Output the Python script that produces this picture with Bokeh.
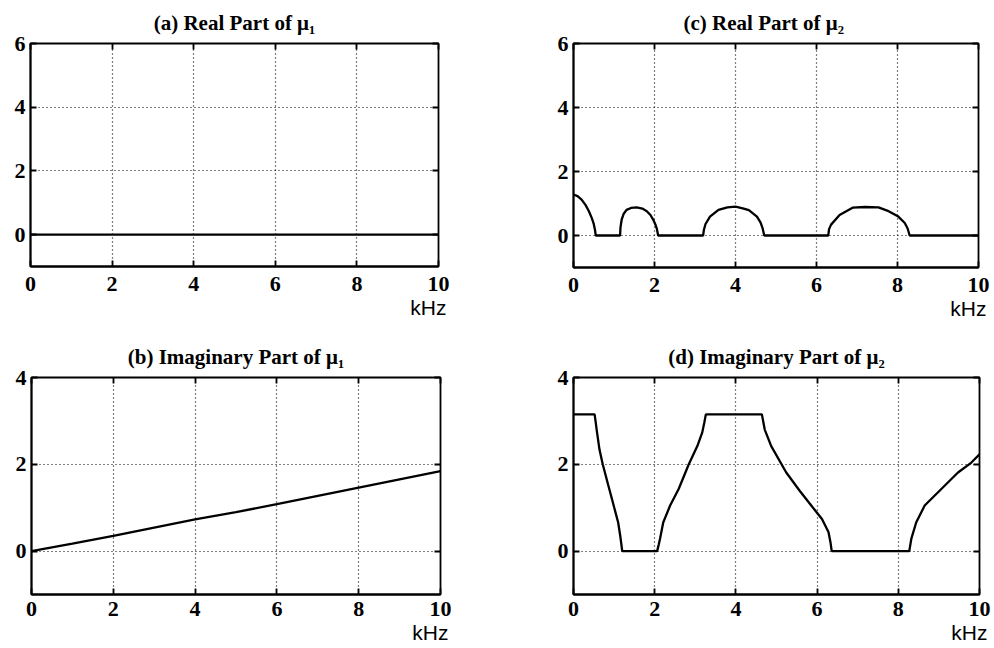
from bokeh.plotting import figure
from bokeh.layouts import column, row
from bokeh.models import Range1d, FixedTicker, LinearAxis, Title, CustomJSTickFormatter
from bokeh.embed import file_html
from bokeh.resources import INLINE

# ---------------- data ----------------
x_ticks = [0, 2, 4, 6, 8, 10]
y_ticks_real = [0, 2, 4, 6]
y_ticks_imag = [0, 2, 4]

# (a) Real part of mu1
freq_a = [0.0, 10.0]
re_mu1 = [0.0, 0.0]

# (b) Imaginary part of mu1
freq_b = [0, 1, 2, 3, 4, 5, 6, 7, 8, 9, 10]
im_mu1 = [0.0, 0.17, 0.35, 0.54, 0.73, 0.90, 1.08, 1.27, 1.46, 1.65, 1.84]

# (c) Real part of mu2
freq_c = [0.00, 0.10, 0.20, 0.30, 0.38, 0.45, 0.50, 0.53, 0.55,
          1.15, 1.16, 1.19, 1.24, 1.31, 1.42, 1.56, 1.70, 1.81, 1.90, 1.97, 2.03, 2.06, 2.09,
          3.20, 3.22, 3.26, 3.37, 3.58, 3.80, 4.00, 4.18, 4.33, 4.53, 4.62, 4.67, 4.71,
          6.29, 6.31, 6.36, 6.57, 6.89, 7.20, 7.53, 7.78, 8.02, 8.18, 8.25, 8.30,
          10.0]
re_mu2 = [1.28, 1.23, 1.12, 0.95, 0.76, 0.55, 0.36, 0.18, 0.00,
          0.00, 0.25, 0.50, 0.68, 0.80, 0.86, 0.88, 0.84, 0.76, 0.64, 0.49, 0.32, 0.20, 0.00,
          0.00, 0.18, 0.36, 0.59, 0.80, 0.88, 0.90, 0.85, 0.79, 0.59, 0.40, 0.22, 0.00,
          0.00, 0.20, 0.34, 0.64, 0.87, 0.89, 0.88, 0.76, 0.59, 0.39, 0.22, 0.00,
          0.00]

# (d) Imaginary part of mu2
freq_d = [0.00, 0.52, 0.55, 0.57, 0.64, 0.72, 0.85, 0.97, 1.06, 1.10, 1.15, 1.18, 1.20,
          2.06, 2.10, 2.13, 2.21, 2.38, 2.59, 2.84, 3.05, 3.17, 3.22, 3.26,
          4.64, 4.68, 4.71, 4.87, 5.24, 5.57, 5.89, 6.12, 6.28, 6.33, 6.36,
          8.27, 8.32, 8.44, 8.65, 9.06, 9.47, 9.80, 10.0]
im_mu2 = [3.15, 3.15, 2.95, 2.80, 2.34, 2.00, 1.54, 1.12, 0.80, 0.66, 0.36, 0.15, 0.00,
          0.00, 0.15, 0.28, 0.66, 1.05, 1.43, 2.00, 2.42, 2.73, 2.95, 3.15,
          3.15, 2.95, 2.80, 2.42, 1.81, 1.39, 1.01, 0.74, 0.44, 0.20, 0.00,
          0.00, 0.28, 0.66, 1.05, 1.43, 1.81, 2.04, 2.23]

titles = ["(a) Real Part of \u03bc\u2081", "(c) Real Part of \u03bc\u2082",
          "(b) Imaginary Part of \u03bc\u2081", "(d) Imaginary Part of \u03bc\u2082"]

SERIF = "Liberation Serif"
SANS = "Liberation Sans"


def make_panel(title, xs, ys, ymin, ymax, yticks, fw, fh, bl, br, bt, bb,
               xstand, talign="center", toffset=0):
    p = figure(frame_width=fw, frame_height=fh,
               min_border_left=bl, min_border_right=br,
               min_border_top=bt, min_border_bottom=bb,
               x_range=Range1d(0, 10), y_range=Range1d(ymin, ymax),
               output_backend="svg", toolbar_location=None)
    p.background_fill_color = "white"
    p.border_fill_color = "white"
    p.outline_line_color = "black"
    p.outline_line_width = 1.8

    xt = FixedTicker(ticks=x_ticks)
    yt = FixedTicker(ticks=yticks)
    p.xaxis.ticker = xt
    p.yaxis.ticker = yt
    p.xgrid.ticker = xt
    p.ygrid.ticker = yt
    for ax in (p.xaxis[0], p.yaxis[0]):
        ax.axis_line_color = "black"
        ax.axis_line_width = 1.8
        ax.major_tick_in = 6
        ax.major_tick_out = 0
        ax.major_tick_line_width = 1.8
        ax.minor_tick_line_color = None
        ax.major_label_text_font = SERIF
        ax.major_label_text_font_style = "bold"
        ax.major_label_text_font_size = "22px"
        ax.major_label_text_color = "black"
    p.xaxis.major_label_standoff = xstand
    p.yaxis.major_label_standoff = 5

    for side, tk in (("above", xt), ("right", yt)):
        ax = LinearAxis(ticker=tk, formatter=CustomJSTickFormatter(code="return ''"),
                        major_tick_in=6, major_tick_out=0, major_tick_line_width=1.8,
                        minor_tick_line_color=None, axis_line_color=None,
                        major_label_standoff=0, major_label_text_font_size="1px")
        p.add_layout(ax, side)

    p.grid.grid_line_color = "black"
    p.grid.grid_line_dash = "1 3"
    p.grid.grid_line_width = 1.2
    p.grid.grid_line_alpha = 1.0

    p.title.text = title
    p.title.align = talign
    p.title.offset = toffset
    p.title.text_font = SERIF
    p.title.text_font_style = "bold"
    p.title.text_font_size = "21px"
    p.title.text_color = "black"
    p.title.standoff = 17

    p.add_layout(Title(text="kHz", align="right", text_font=SANS,
                       text_font_size="21px", text_font_style="normal",
                       text_color="black", standoff=0, offset=-8), "below")

    p.line(xs, ys, line_color="black", line_width=2.3)
    return p


pa = make_panel(titles[0], freq_a, re_mu1, -1, 6, y_ticks_real, 408, 223, 30, 113, 42, 65, 10)
pc = make_panel(titles[1], freq_c, re_mu2, -1, 6, y_ticks_real, 405, 224, 22, 14, 39, 67, 10,
                talign="left", toffset=110)
pb = make_panel(titles[2], freq_b, im_mu1, -1, 4, y_ticks_imag, 409, 217, 31, 111, 43, 56, 7)
pd = make_panel(titles[3], freq_d, im_mu2, -1, 4, y_ticks_imag, 406, 217, 22, 14, 42, 57, 7)

layout = column(row(pa, pc), row(pb, pd))

with open("out.html", "w") as f:
    f.write(file_html(layout, INLINE))
